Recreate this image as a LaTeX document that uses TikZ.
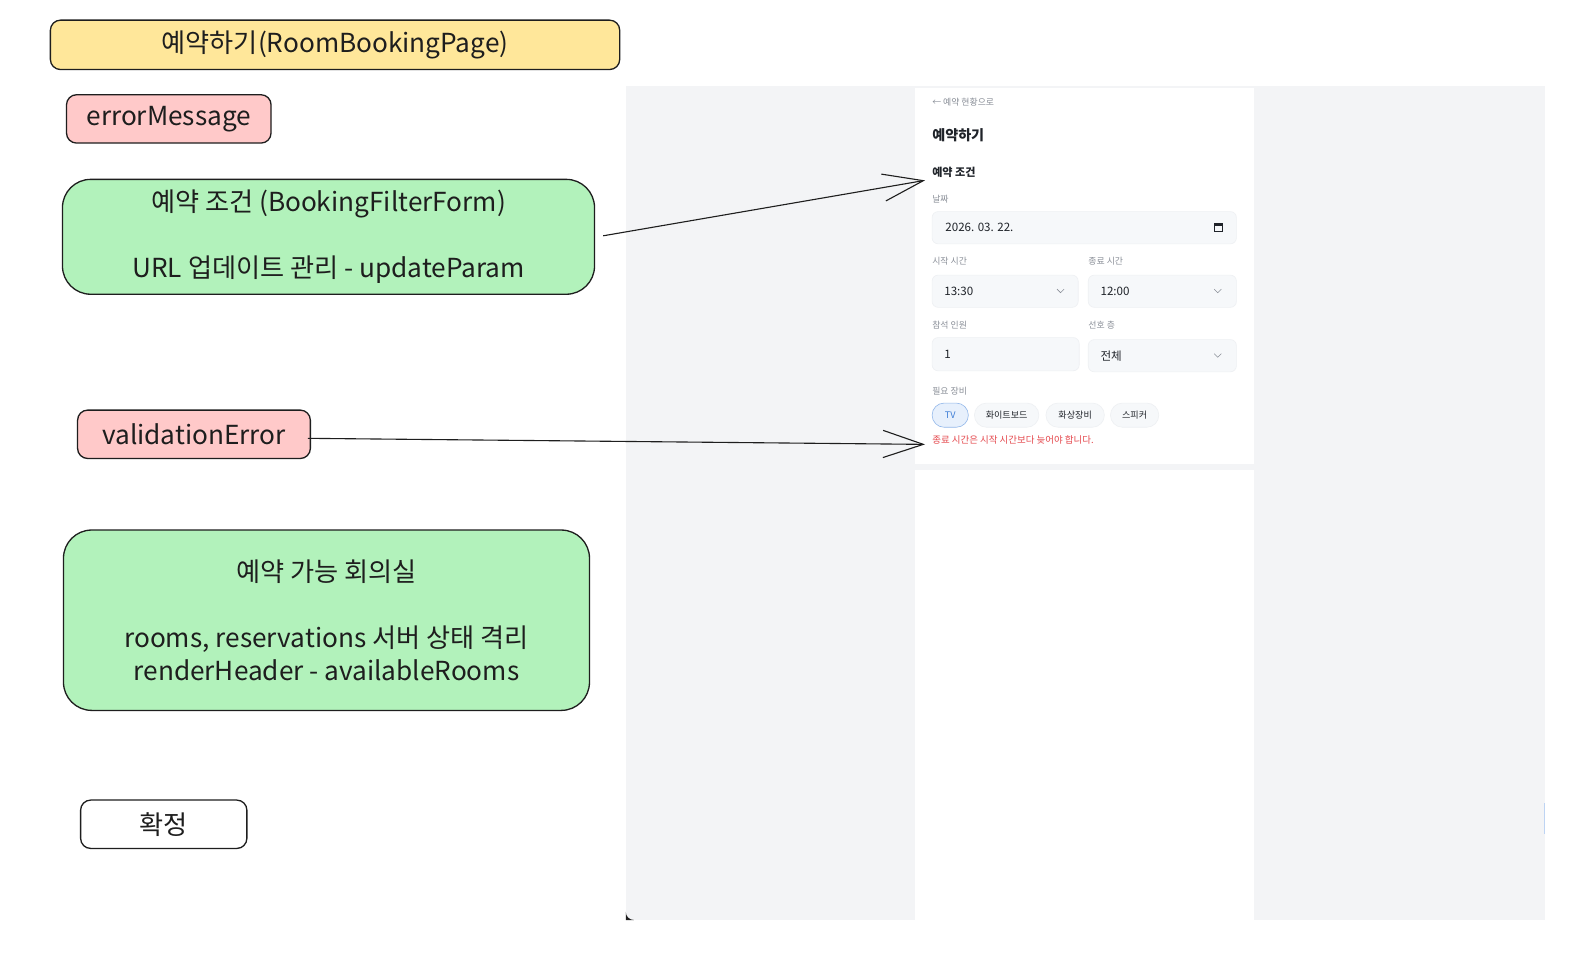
\documentclass[tikz,border=0pt]{standalone}
\usepackage{fontspec}
\setmainfont{Noto Sans CJK KR}
\usetikzlibrary{arrows.meta}
\definecolor{ink}{HTML}{1E1E1E}
\definecolor{ylw}{HTML}{FFE79A}
\definecolor{pnk}{HTML}{FFC9C9}
\definecolor{grn}{HTML}{B2F2BB}
\definecolor{pagebg}{HTML}{F3F4F6}
\definecolor{fieldbg}{HTML}{F6F8FA}
\definecolor{fieldln}{HTML}{EEF0F3}
\definecolor{lbl}{HTML}{8A8F98}
\definecolor{txt}{HTML}{1F2329}
\definecolor{errred}{HTML}{E5484D}
\definecolor{tvfill}{HTML}{E7F0FC}
\definecolor{tvline}{HTML}{93B8EA}
\definecolor{tvtext}{HTML}{3A7BD5}
\tikzset{
  x=1pt, y=-1pt,
  box/.style={draw=ink, line width=1.3pt, rounded corners=10pt, inner sep=0pt,
    font=\fontsize{26}{33}\selectfont, align=center, text=ink},
  bigbox/.style={box, rounded corners=28pt},
  scl/.style={anchor=west, inner sep=0pt, text=lbl, font=\fontsize{8.8}{10}\selectfont},
  sct/.style={anchor=west, inner sep=0pt, text=txt, font=\fontsize{11.5}{13}\selectfont},
  field/.style={fill=fieldbg, draw=fieldln, line width=0.6pt, rounded corners=6pt},
  chip/.style={fill=fieldbg, draw=fieldln, line width=0.6pt, rounded corners=12pt,
    inner sep=0pt, minimum height=24pt, text=txt, font=\fontsize{9}{10}\selectfont},
  chev/.style={draw=lbl, line width=0.6pt},
  arr/.style={draw=ink, line width=1.1pt, -{Straight Barb[length=40pt,width=27pt,line width=1.1pt]}},
}
\begin{document}
\begin{tikzpicture}
\useasboundingbox (0,0) rectangle (1568,969);
\fill[white] (0,0) rectangle (1568,969);

% ---- screenshot ----
\fill[pagebg] (621,85) rectangle (1533,913);
\fill[white] (908,87) rectangle (1244,460);
\fill[white] (908,466) rectangle (1244,913);
\fill[ink] (621,905) -- (621,913) -- (629,913) to[out=180,in=270] (621,905);
\draw[tvline!60, line width=1pt] (1533,797) -- (1533,828);

\node[scl] (back) at (925,101) {← 예약 현황으로};
\node[anchor=west, inner sep=0pt, text=txt, font=\fontsize{14}{16}\selectfont\bfseries] (h1) at (925,134) {예약하기};
\node[anchor=west, inner sep=0pt, text=txt, font=\fontsize{11}{12}\selectfont\bfseries] (cond) at (925,171) {예약 조건};
\node[scl] (ldate) at (925,198) {날짜};
\draw[field] (925,210) rectangle (1227,242);
\node[sct] (date) at (938,226) {2026. 03. 22.};
\draw[txt, line width=1.1pt] (1205,222) rectangle (1213,230);
\fill[txt] (1205,222) rectangle (1213,224.5);

\node[scl] (lstart) at (925,259) {시작 시간};
\node[scl] (lend) at (1080,259) {종료 시간};
\draw[field] (925,273) rectangle (1070,305);
\draw[field] (1080,273) rectangle (1227,305);
\node[sct] (st) at (937,289) {13:30};
\node[sct] (et) at (1092,289) {12:00};
\draw[chev] (1049,287) -- (1052.5,290.5) -- (1056,287);
\draw[chev] (1205,287) -- (1208.5,290.5) -- (1212,287);

\node[scl] (lpeople) at (925,323) {참석 인원};
\node[scl] (lfloor) at (1080,323) {선호 층};
\draw[field] (925,335) rectangle (1071,368);
\draw[field] (1080,337) rectangle (1227,369);
\node[sct] (ppl) at (937,352) {1};
\node[sct] (flr) at (1092,353) {전체};
\draw[chev] (1205,351) -- (1208.5,354.5) -- (1212,351);

\node[scl] (lequip) at (925,388) {필요 장비};
\node[chip, fill=tvfill, draw=tvline, text=tvtext, minimum width=36pt] (tv) at (943,412) {TV};
\node[chip, minimum width=64pt] (wb) at (999,412) {화이트보드};
\node[chip, minimum width=58pt] (vc) at (1067,412) {화상장비};
\node[chip, minimum width=48pt] (sp) at (1126,412) {스피커};
\node[anchor=west, inner sep=0pt, text=errred, font=\fontsize{9.4}{11}\selectfont] (err) at (925,437) {종료 시간은 시작 시간보다 늦어야 합니다.};

% ---- diagram boxes ----
\node[box, fill=ylw, minimum width=565pt, minimum height=49pt] (title) at (332.5,44.5) {예약하기(RoomBookingPage)};
\node[box, fill=pnk, minimum width=203pt, minimum height=48pt] (em) at (167.5,118) {errorMessage};
\node[bigbox, fill=grn, minimum width=528pt, minimum height=114pt] (form) at (326,235)
  {예약 조건 (BookingFilterForm)\\[33pt]URL 업데이트 관리 - updateParam};
\node[box, fill=pnk, minimum width=231pt, minimum height=48pt] (ve) at (192.5,431) {validationError};
\node[bigbox, fill=grn, minimum width=522pt, minimum height=179pt] (rooms) at (324,615.5)
  {예약 가능 회의실\\[33pt]rooms, reservations 서버 상태 격리\\renderHeader - availableRooms};
\node[box, fill=white, minimum width=165pt, minimum height=48pt] (ok) at (162.5,818) {확정};

% ---- connectors ----
\coordinate (tip1) at (918,179);
\coordinate (tip2) at (918,441);
\draw[arr] ([xshift=8pt,yshift=1pt]form.east) -- (tip1);
\draw[arr] ([xshift=-3pt,yshift=-4pt]ve.east) -- (tip2);
\end{tikzpicture}
\end{document}
